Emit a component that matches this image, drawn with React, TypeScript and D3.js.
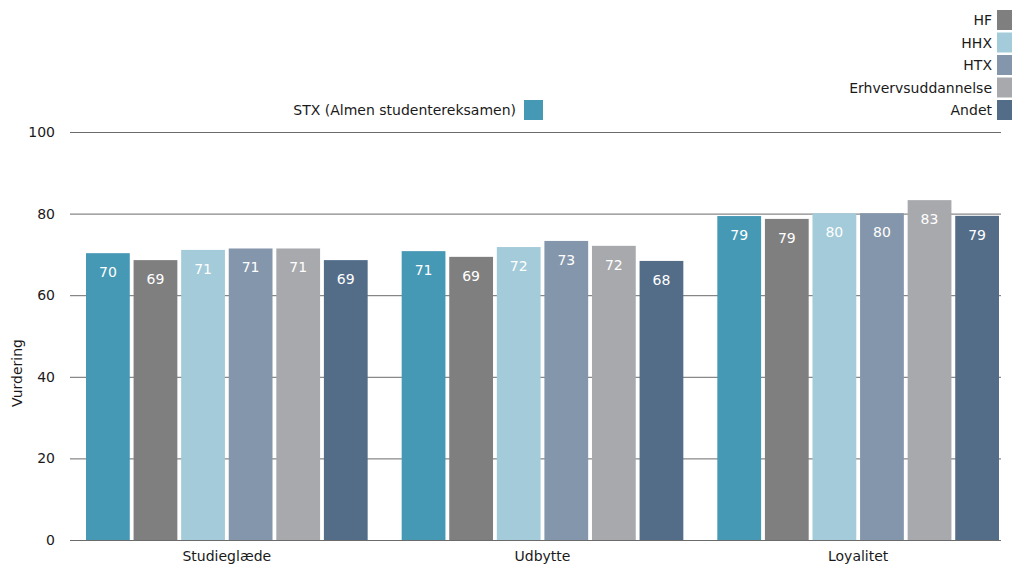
import React, { useEffect, useRef } from 'react';
import * as d3 from 'd3';

const categories = ['Studieglæde', 'Udbytte', 'Loyalitet'];
const seriesNames = ['STX (Almen studentereksamen)', 'HF', 'HHX', 'HTX', 'Erhvervsuddannelse', 'Andet'];
const seriesColors = ['#4599b5', '#7f7f7f', '#a3cbd9', '#8496ab', '#a8a9ad', '#536d89'];
// values per series, in category order
const stx = [70.3, 70.8, 79.4];
const hf = [68.6, 69.4, 78.7];
const hhx = [71.1, 71.8, 80.1];
const htx = [71.45, 73.3, 80.1];
const erhverv = [71.45, 72.1, 83.3];
const andet = [68.6, 68.4, 79.45];
const seriesValues = [stx, hf, hhx, htx, erhverv, andet];
const yTicks = [0, 20, 40, 60, 80, 100];

const FONT = '"DejaVu Sans", Verdana, sans-serif';

const App: React.FC = () => {
  const svgRef = useRef<SVGSVGElement>(null);

  useEffect(() => {
    const svg = d3.select(svgRef.current);
    svg.selectAll('*').remove();

    const left = 70;
    const right = 1001;
    const top = 132;
    const bottom = 540;

    const x0 = d3.scaleBand().domain(categories).range([left, 1017]).paddingInner(0).paddingOuter(0);
    const x1 = d3.scaleBand()
      .domain(seriesNames)
      .range([16, x0.bandwidth() - 18])
      .paddingInner(0.08)
      .paddingOuter(0);
    const y = d3.scaleLinear().domain([0, 100]).range([bottom, top]);

    // gridlines
    svg.append('g')
      .selectAll('line')
      .data(yTicks)
      .enter()
      .append('line')
      .attr('x1', left)
      .attr('x2', right)
      .attr('y1', d => y(d) + 0.5)
      .attr('y2', d => y(d) + 0.5)
      .attr('stroke', '#6b6b6b')
      .attr('stroke-width', 1);

    svg.append('g')
      .selectAll('text')
      .data(yTicks)
      .enter()
      .append('text')
      .attr('x', 55)
      .attr('y', d => y(d) + 5)
      .attr('text-anchor', 'end')
      .style('font-family', FONT)
      .style('font-size', '14px')
      .style('fill', '#1a1a1a')
      .text(d => d);

    svg.append('text')
      .attr('transform', `translate(22,${(top + bottom) / 2 + 37}) rotate(-90)`)
      .attr('text-anchor', 'middle')
      .style('font-family', FONT)
      .style('font-size', '14px')
      .style('fill', '#1a1a1a')
      .text('Vurdering');

    // bars
    seriesNames.forEach((name, si) => {
      const vals = seriesValues[si];
      const g = svg.append('g');
      g.selectAll('rect')
        .data(vals)
        .enter()
        .append('rect')
        .attr('x', (_, ci) => (x0(categories[ci]) || 0) + (x1(name) || 0))
        .attr('y', d => y(d))
        .attr('width', x1.bandwidth())
        .attr('height', d => bottom - y(d))
        .attr('fill', seriesColors[si]);
      g.selectAll('text')
        .data(vals)
        .enter()
        .append('text')
        .attr('x', (_, ci) => (x0(categories[ci]) || 0) + (x1(name) || 0) + x1.bandwidth() / 2)
        .attr('y', d => y(d) + 24)
        .attr('text-anchor', 'middle')
        .style('font-family', FONT)
        .style('font-size', '14px')
        .style('fill', '#ffffff')
        .text(d => Math.round(d));
    });

    // baseline
    svg.append('line')
      .attr('x1', left)
      .attr('x2', right)
      .attr('y1', bottom + 0.5)
      .attr('y2', bottom + 0.5)
      .attr('stroke', '#6b6b6b');

    // category labels
    svg.append('g')
      .selectAll('text')
      .data(categories)
      .enter()
      .append('text')
      .attr('x', d => (x0(d) || 0) + 16 + (x0.bandwidth() - 34) / 2)
      .attr('y', 561)
      .attr('text-anchor', 'middle')
      .style('font-family', FONT)
      .style('font-size', '14px')
      .style('fill', '#1a1a1a')
      .text(d => d);

    // legend: STX alone, the rest stacked top-right
    const stxLeg = svg.append('g').attr('transform', 'translate(524,100)');
    stxLeg.append('rect').attr('width', 19).attr('height', 20).attr('fill', seriesColors[0]);
    stxLeg.append('text')
      .attr('x', -8)
      .attr('y', 15)
      .attr('text-anchor', 'end')
      .style('font-family', FONT)
      .style('font-size', '14px')
      .style('fill', '#1a1a1a')
      .text(seriesNames[0]);

    const legItems = svg.append('g')
      .selectAll('g')
      .data(seriesNames.slice(1))
      .enter()
      .append('g')
      .attr('transform', (_, i) => `translate(997,${10 + i * 22.5})`);
    legItems.append('rect')
      .attr('width', 19)
      .attr('height', 20)
      .attr('fill', (_, i) => seriesColors[i + 1]);
    legItems.append('text')
      .attr('x', -5)
      .attr('y', 15)
      .attr('text-anchor', 'end')
      .style('font-family', FONT)
      .style('font-size', '14px')
      .style('fill', '#1a1a1a')
      .text(d => d);
  }, []);

  return (
    <svg
      ref={svgRef}
      width={1012}
      height={564}
      style={{ position: 'absolute', left: 0, top: 0, background: '#fff' }}
    />
  );
};

export default App;
